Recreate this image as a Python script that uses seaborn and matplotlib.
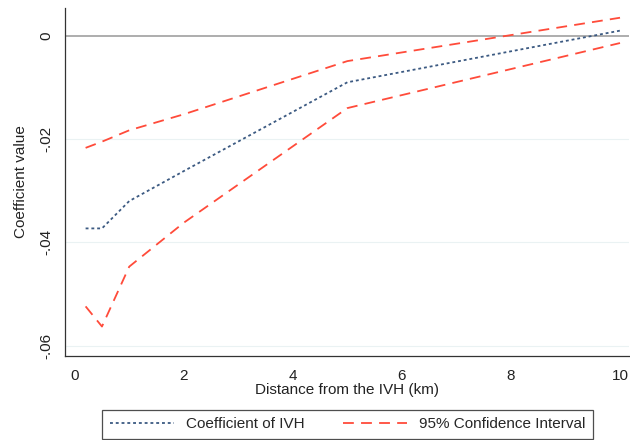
import numpy as np
import pandas as pd
import matplotlib
matplotlib.use('Agg')
import matplotlib.pyplot as plt
import seaborn as sns

# distances (km) and estimates
distance = [0.2, 0.5, 1, 2, 5, 10]
coef = [-0.0373, -0.0373, -0.0320, -0.0262, -0.0090, 0.0010]
ci_upper = [-0.0217, -0.0205, -0.0183, -0.0152, -0.0049, 0.0035]
ci_lower = [-0.0524, -0.0563, -0.0447, -0.0362, -0.0140, -0.0014]

sns.set_theme(style='white')
plt.rcParams['font.family'] = ['Liberation Sans', 'DejaVu Sans']

df = pd.DataFrame({'distance': distance, 'coef': coef,
                   'upper': ci_upper, 'lower': ci_lower})

blue = '#3c5a82'
red = '#ff4b3a'

fig = plt.figure(figsize=(6.3, 4.4), dpi=100)
ax = fig.add_axes([0.103, 0.191, 0.895, 0.791])

for y in [-0.06, -0.04, -0.02]:
    ax.axhline(y, color='#eaf2f3', lw=0.8, zorder=0)
ax.axhline(0, color='#a0a0a0', lw=1.2, zorder=1)

sns.lineplot(data=df, x='distance', y='coef', ax=ax, color=blue, lw=1.3,
             linestyle=(0, (1.6, 1.6)), label='Coefficient of IVH')
sns.lineplot(data=df, x='distance', y='upper', ax=ax, color=red, lw=1.3,
             linestyle=(0, (6, 4)), label='95% Confidence Interval')
sns.lineplot(data=df, x='distance', y='lower', ax=ax, color=red, lw=1.3,
             linestyle=(0, (6, 4)))

ax.set_xlim(-0.18, 10.16)
ax.set_ylim(-0.062, 0.0054)
ax.set_xticks([0, 2, 4, 6, 8, 10])
ax.set_yticks([0, -0.02, -0.04, -0.06])
ax.set_yticklabels(['0', '-.02', '-.04', '-.06'], rotation=90, va='center')

ax.spines['top'].set_visible(False)
ax.spines['right'].set_visible(False)
for s in ['left', 'bottom']:
    ax.spines[s].set_color('#333333')
    ax.spines[s].set_linewidth(0.9)
ax.tick_params(axis='both', direction='out', length=4.5, width=0.8,
               color='#333333', labelsize=11, labelcolor='#222222')
ax.tick_params(axis='x', pad=5)
ax.tick_params(axis='y', pad=4)

ax.set_xlabel('Distance from the IVH (km)', fontsize=11, color='#222222', labelpad=0)
ax.set_ylabel('Coefficient value', fontsize=11, color='#222222', labelpad=8)

ax.legend(loc='center', bbox_to_anchor=(0.552, 0.036), bbox_transform=fig.transFigure,
          ncol=2, frameon=True, fancybox=False, edgecolor='#222222',
          fontsize=11, handlelength=4.2, columnspacing=2.5,
          borderpad=0.5)
ax.get_legend().get_frame().set_linewidth(0.9)

fig.savefig('out.png', dpi=100, facecolor='white')
